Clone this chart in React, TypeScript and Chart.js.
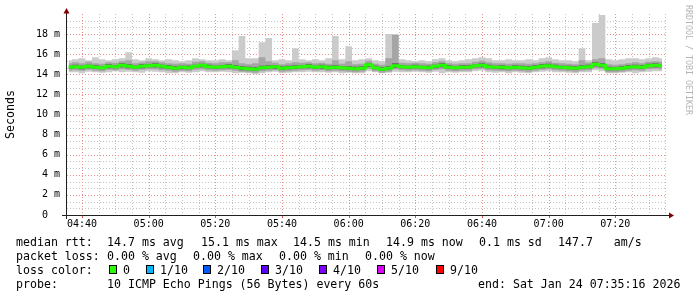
import React, { useEffect, useRef } from 'react';
import { Chart, registerables } from 'chart.js';
Chart.register(...registerables);

// sample grid: one value every 2 minutes starting 04:36 (minutes since midnight)
const START_MIN = 276;
const STEP_MIN = 2;

// median rtt (ms)
const MEDIAN = [
  14.7, 14.75, 14.7, 14.8, 14.7, 14.65, 14.8, 14.75, 14.9, 14.8,
  14.7, 14.8, 14.85, 14.9, 14.8, 14.7, 14.6, 14.7, 14.65, 14.8,
  14.9, 14.75, 14.7, 14.75, 14.8, 14.7, 14.6, 14.55, 14.5, 14.65,
  14.7, 14.75, 14.6, 14.65, 14.7, 14.75, 14.8, 14.7, 14.75, 14.65,
  14.7, 14.65, 14.6, 14.55, 14.6, 14.95, 14.65, 14.5, 14.6, 14.85,
  14.75, 14.7, 14.75, 14.7, 14.65, 14.8, 14.9, 14.7, 14.65, 14.7,
  14.7, 14.85, 14.9, 14.75, 14.7, 14.7, 14.65, 14.7, 14.65, 14.6,
  14.7, 14.8, 14.85, 14.75, 14.7, 14.65, 14.6, 14.7, 14.75, 15.0,
  14.9, 14.55, 14.55, 14.6, 14.7, 14.75, 14.7, 14.85, 14.9, 14.85,
];

// slowest ping (outer smoke top)
const SMOKE_MAX = [
  15.4, 15.5, 15.6, 15.4, 15.7, 15.5, 15.4, 15.5, 15.6, 16.2,
  15.5, 15.4, 15.6, 15.5, 15.4, 15.5, 15.4, 15.3, 15.4, 15.6,
  15.5, 15.4, 15.4, 15.5, 15.4, 16.4, 17.8, 15.6, 15.6, 17.2,
  17.6, 15.4, 15.5, 15.4, 16.6, 15.5, 15.4, 15.5, 15.4, 15.6,
  17.8, 15.5, 16.8, 15.4, 15.5, 15.6, 15.4, 15.3, 18.0, 18.0,
  15.5, 15.4, 15.3, 15.4, 15.3, 15.5, 15.6, 15.4, 15.3, 15.4,
  15.5, 15.6, 15.7, 15.6, 15.4, 15.4, 15.5, 15.4, 15.4, 15.5,
  15.4, 15.6, 15.7, 15.5, 15.4, 15.4, 15.3, 16.6, 15.4, 19.1,
  19.9, 15.5, 15.4, 15.5, 15.6, 15.6, 15.5, 15.6, 15.7, 15.6,
];

// fastest ping (outer smoke bottom)
const SMOKE_MIN = [
  14.2, 14.2, 14.1, 14.25, 14.2, 14.15, 14.2, 14.3, 14.2, 14.25,
  14.2, 14.15, 14.3, 14.25, 14.2, 14.1, 14.1, 14.2, 14.15, 14.2,
  14.3, 14.2, 14.2, 14.25, 14.2, 14.1, 14.15, 14.1, 14.0, 14.1,
  14.2, 14.25, 14.1, 14.15, 14.2, 14.2, 14.25, 14.2, 14.2, 14.15,
  14.2, 14.1, 14.15, 14.1, 14.1, 14.3, 14.2, 14.1, 14.15, 14.25,
  14.2, 14.2, 14.25, 14.2, 14.15, 14.25, 14.1, 14.2, 14.15, 14.2,
  14.2, 14.3, 14.35, 14.2, 14.15, 14.2, 14.1, 14.2, 14.15, 14.1,
  14.2, 14.25, 14.3, 14.2, 14.2, 14.15, 14.1, 14.2, 14.2, 14.4,
  14.3, 14.1, 14.1, 14.15, 14.2, 14.1, 14.2, 14.25, 14.3, 14.3,
];

// middle smoke band top / bottom
const SMOKE_HI2 = [
  15.1, 15.2, 15.1, 15.25, 15.1, 15.05, 15.2, 15.15, 15.3, 15.4,
  15.1, 15.2, 15.3, 15.3, 15.2, 15.1, 15.05, 15.1, 15.05, 15.25,
  15.3, 15.15, 15.1, 15.2, 15.2, 15.4, 15.1, 15.0, 15.1, 15.7,
  15.3, 15.15, 15.0, 15.1, 15.2, 15.15, 15.2, 15.1, 15.15, 15.05,
  15.4, 15.05, 15.3, 15.0, 15.05, 15.35, 15.05, 14.95, 15.6, 17.9,
  15.15, 15.1, 15.15, 15.1, 15.05, 15.2, 15.3, 15.1, 15.05, 15.1,
  15.1, 15.25, 15.35, 15.2, 15.1, 15.1, 15.05, 15.1, 15.1, 15.05,
  15.1, 15.2, 15.3, 15.15, 15.1, 15.05, 15.0, 15.4, 15.15, 15.5,
  15.6, 15.0, 14.95, 15.0, 15.1, 15.2, 15.1, 15.25, 15.3, 15.25,
];
const SMOKE_LO2 = [
  14.35, 14.4, 14.35, 14.45, 14.35, 14.3, 14.45, 14.4, 14.5, 14.45,
  14.35, 14.45, 14.5, 14.5, 14.4, 14.35, 14.25, 14.35, 14.3, 14.45,
  14.5, 14.4, 14.35, 14.4, 14.45, 14.35, 14.25, 14.2, 14.15, 14.3,
  14.35, 14.4, 14.25, 14.3, 14.35, 14.4, 14.45, 14.35, 14.4, 14.3,
  14.35, 14.3, 14.25, 14.2, 14.25, 14.55, 14.3, 14.15, 14.25, 14.5,
  14.4, 14.35, 14.4, 14.35, 14.3, 14.45, 14.5, 14.35, 14.3, 14.35,
  14.35, 14.5, 14.55, 14.4, 14.35, 14.35, 14.3, 14.35, 14.3, 14.25,
  14.35, 14.45, 14.5, 14.4, 14.35, 14.3, 14.25, 14.35, 14.4, 14.6,
  14.55, 14.2, 14.2, 14.25, 14.35, 14.4, 14.35, 14.5, 14.55, 14.5,
];

// inner (dark) smoke band top / bottom
const SMOKE_HI3 = [
  14.85, 14.95, 14.85, 14.95, 14.9, 14.8, 15.0, 14.9, 15.1, 15.0,
  14.85, 15.0, 15.0, 15.1, 14.95, 14.9, 14.8, 14.85, 14.85, 14.95,
  15.05, 14.95, 14.85, 14.9, 15.0, 14.9, 14.8, 14.75, 14.7, 14.85,
  14.9, 14.9, 14.8, 14.85, 14.9, 14.9, 15.0, 14.85, 14.95, 14.85,
  14.9, 14.8, 14.8, 14.75, 14.8, 15.1, 14.85, 14.7, 14.8, 15.1,
  14.9, 14.85, 14.95, 14.85, 14.85, 14.95, 15.1, 14.9, 14.8, 14.9,
  14.9, 15.0, 15.1, 14.95, 14.85, 14.9, 14.8, 14.9, 14.85, 14.8,
  14.9, 15.0, 15.05, 14.95, 14.85, 14.85, 14.8, 14.9, 14.95, 15.2,
  15.1, 14.75, 14.7, 14.8, 14.9, 14.95, 14.9, 15.05, 15.1, 15.0,
];
const SMOKE_LO3 = [
  14.55, 14.6, 14.5, 14.6, 14.55, 14.5, 14.6, 14.6, 14.7, 14.6,
  14.55, 14.6, 14.7, 14.7, 14.6, 14.55, 14.45, 14.5, 14.5, 14.65,
  14.7, 14.6, 14.55, 14.6, 14.6, 14.55, 14.4, 14.4, 14.35, 14.5,
  14.55, 14.55, 14.45, 14.5, 14.55, 14.6, 14.6, 14.55, 14.55, 14.5,
  14.55, 14.5, 14.45, 14.4, 14.45, 14.75, 14.5, 14.35, 14.45, 14.65,
  14.6, 14.55, 14.6, 14.55, 14.5, 14.6, 14.7, 14.55, 14.5, 14.55,
  14.55, 14.7, 14.7, 14.6, 14.55, 14.5, 14.5, 14.55, 14.5, 14.45,
  14.55, 14.6, 14.7, 14.6, 14.55, 14.5, 14.45, 14.55, 14.6, 14.8,
  14.7, 14.4, 14.4, 14.45, 14.55, 14.6, 14.55, 14.7, 14.7, 14.7,
];

const X_MIN = 275.5;
const X_MAX = 455.5;
const X_TICKS = [280, 300, 320, 340, 360, 380, 400, 420, 440];
const X_MINOR_STEP = 5;
const Y_TICKS = [0, 2, 4, 6, 8, 10, 12, 14, 16, 18];
const Y_MAX = 20;
const Y_MINOR_STEP = 2 / 3;

const LOSS_LABELS = ['0', '1/10', '2/10', '3/10', '4/10', '5/10', '9/10'];
const LOSS_COLORS = ['#26ff00', '#00b8ff', '#0059ff', '#5e00ff', '#7e00ff', '#dd00ff', '#ff0000'];

const RTT_LABELS = ['14.7 ms avg', '15.1 ms max', '14.5 ms min', '14.9 ms now', '0.1 ms sd', '147.7   am/s'];
const LOSS_STATS = ['0.00 % avg', '0.00 % max', '0.00 % min', '0.00 % now'];
const PROBE_TEXT = '10 ICMP Echo Pings (56 Bytes) every 60s';
const END_TEXT = 'end: Sat Jan 24 07:35:16 2026';

const MONO = "'DejaVu Sans Mono', 'Liberation Mono', monospace";

function pad2(n: number) {
  return n < 10 ? '0' + n : '' + n;
}
function fmtTime(m: number) {
  return pad2(Math.floor(m / 60)) + ':' + pad2(Math.round(m % 60));
}
function pts(arr: number[]) {
  return arr.map((v, i) => ({ x: START_MIN + i * STEP_MIN, y: v }));
}

const MGRID = 'rgb(234,140,140)';
const GRID = 'rgb(196,196,196)';

function dotH(ctx: CanvasRenderingContext2D, x0: number, x1: number, y: number) {
  for (let x = Math.round(x0); x < x1; x += 3) ctx.fillRect(x, y, 1, 1);
}
function dotV(ctx: CanvasRenderingContext2D, y0: number, y1: number, x: number) {
  for (let y = Math.round(y0); y < y1; y += 3) ctx.fillRect(x, y, 1, 1);
}

const rrdPlugin = {
  id: 'rrd',
  beforeDatasetsDraw(chart: any) {
    const { ctx, chartArea, scales } = chart;
    const { left, right, top, bottom } = chartArea;
    const xs = scales.x;
    const ys = scales.y;
    ctx.save();
    ctx.fillStyle = GRID;
    for (let k = 1; k * Y_MINOR_STEP <= Y_MAX + 0.001; k++) {
      if (k % 3 === 0) continue;
      const py = Math.round(ys.getPixelForValue(k * Y_MINOR_STEP));
      dotH(ctx, left, right, py);
    }
    for (let v = 280; v <= X_MAX; v += X_MINOR_STEP) {
      if (v % 20 === 0) continue;
      const px = Math.round(xs.getPixelForValue(v));
      dotV(ctx, top, bottom, px);
    }
    ctx.fillStyle = MGRID;
    for (const v of Y_TICKS) {
      if (v === 0) continue;
      const py = Math.round(ys.getPixelForValue(v));
      dotH(ctx, left, right, py);
    }
    for (const v of X_TICKS) {
      const px = Math.round(xs.getPixelForValue(v));
      dotV(ctx, top, bottom, px);
    }
    ctx.restore();
  },
  afterDraw(chart: any) {
    const { ctx, chartArea, scales } = chart;
    const { left, right, top, bottom } = chartArea;
    const xs = scales.x;
    const ax = Math.round(left) - 0.5;
    const ay = Math.round(bottom) + 0.5;
    ctx.save();
    ctx.setLineDash([]);
    ctx.fillStyle = 'rgb(222,79,79)';
    for (const v of X_TICKS) {
      const px = Math.round(xs.getPixelForValue(v));
      ctx.fillRect(px, ay + 0.5, 1, 2);
    }
    ctx.strokeStyle = '#202020';
    ctx.lineWidth = 1;
    ctx.beginPath();
    ctx.moveTo(left - 5, ay);
    ctx.lineTo(right + 3, ay);
    ctx.moveTo(ax, bottom + 4);
    ctx.lineTo(ax, top - 2);
    ctx.stroke();
    ctx.fillStyle = '#7f0000';
    ctx.beginPath();
    ctx.moveTo(ax, top - 6);
    ctx.lineTo(ax - 3, top - 0.5);
    ctx.lineTo(ax + 3, top - 0.5);
    ctx.closePath();
    ctx.fill();
    ctx.beginPath();
    ctx.moveTo(right + 7, ay);
    ctx.lineTo(right + 2, ay - 3);
    ctx.lineTo(right + 2, ay + 3);
    ctx.closePath();
    ctx.fill();

    ctx.fillStyle = '#000';
    ctx.font = '11.6px ' + MONO;
    ctx.save();
    ctx.translate(11, (top + bottom) / 2);
    ctx.rotate(-Math.PI / 2);
    ctx.textAlign = 'center';
    ctx.textBaseline = 'middle';
    ctx.fillText('Seconds', 0, 0);
    ctx.restore();

    ctx.save();
    ctx.fillStyle = '#b4b4b4';
    ctx.font = '8.3px ' + MONO;
    ctx.translate(688, 5);
    ctx.rotate(Math.PI / 2);
    ctx.textAlign = 'left';
    ctx.textBaseline = 'middle';
    ctx.fillText('RRDTOOL / TOBI OETIKER', 0, 0);
    ctx.restore();

    ctx.fillStyle = '#000';
    ctx.font = '11.6px ' + MONO;
    ctx.textAlign = 'left';
    ctx.textBaseline = 'alphabetic';
    const r1 = 246, r2 = 260, r3 = 274, r4 = 288;
    ctx.fillText('median rtt:', 16, r1);
    const rttX = [107, 201, 293, 386, 479, 558];
    RTT_LABELS.forEach((t, i) => ctx.fillText(t, rttX[i], r1));
    ctx.fillText('packet loss:', 16, r2);
    const lossX = [107, 193, 279, 365];
    LOSS_STATS.forEach((t, i) => ctx.fillText(t, lossX[i], r2));
    ctx.fillText('loss color:', 16, r3);
    const boxX = [109, 146, 203, 261, 319, 377, 436];
    LOSS_LABELS.forEach((t, i) => {
      ctx.fillStyle = LOSS_COLORS[i];
      ctx.fillRect(boxX[i], r3 - 8, 7, 8);
      ctx.strokeStyle = '#000';
      ctx.lineWidth = 1;
      ctx.strokeRect(boxX[i] + 0.5, r3 - 8.5, 7, 8);
      ctx.fillStyle = '#000';
      ctx.fillText(t, boxX[i] + 14, r3);
    });
    ctx.fillText('probe:', 16, r4);
    ctx.fillText(PROBE_TEXT, 107, r4);
    ctx.fillText(END_TEXT, 478, r4);
    ctx.restore();
  },
};

export default function App() {
  const ref = useRef<HTMLCanvasElement | null>(null);
  useEffect(() => {
    document.body.style.margin = '0';
    const canvas = ref.current;
    if (!canvas) return;
    const lineBase = {
      pointRadius: 0,
      pointHoverRadius: 0,
      tension: 0,
      stepped: 'middle' as const,
    };
    const edge = { borderColor: 'rgba(0,0,0,0)', borderWidth: 1 };
    const chart = new Chart(canvas, {
      type: 'line',
      data: {
        datasets: [
          { ...lineBase, ...edge, label: 'min', data: pts(SMOKE_MIN), fill: false, order: 8 },
          { ...lineBase, ...edge, label: 'max', data: pts(SMOKE_MAX), fill: '-1', backgroundColor: 'rgb(203,203,203)', order: 7 },
          { ...lineBase, ...edge, label: 'lo2', data: pts(SMOKE_LO2), fill: false, order: 6 },
          { ...lineBase, ...edge, label: 'hi2', data: pts(SMOKE_HI2), fill: '-1', backgroundColor: 'rgb(165,165,165)', order: 5 },
          { ...lineBase, ...edge, label: 'lo3', data: pts(SMOKE_LO3), fill: false, order: 4 },
          { ...lineBase, ...edge, label: 'hi3', data: pts(SMOKE_HI3), fill: '-1', backgroundColor: 'rgb(95,95,95)', order: 3 },
          { ...lineBase, label: 'median', data: pts(MEDIAN), borderColor: '#26ff00', borderWidth: 3, fill: false, order: 1 },
        ],
      },
      options: {
        animation: false,
        responsive: false,
        maintainAspectRatio: false,
        devicePixelRatio: 1,
        layout: { padding: { top: 14, right: 30, left: 0, bottom: 0 } },
        plugins: { legend: { display: false }, tooltip: { enabled: false }, title: { display: false } },
        events: [],
        scales: {
          x: {
            type: 'linear',
            min: X_MIN,
            max: X_MAX,
            grid: { display: false, drawTicks: false },
            border: { display: false },
            afterBuildTicks: (s: any) => {
              s.ticks = X_TICKS.map((v) => ({ value: v }));
            },
            afterFit: (s: any) => {
              s.height = 82;
            },
            ticks: {
              autoSkip: false,
              maxRotation: 0,
              padding: 3,
              color: '#000',
              font: { family: MONO, size: 10 },
              callback: (v: any) => fmtTime(Number(v)),
            },
          },
          y: {
            type: 'linear',
            min: 0,
            max: Y_MAX,
            grid: { display: false, drawTicks: false },
            border: { display: false },
            afterBuildTicks: (s: any) => {
              s.ticks = Y_TICKS.map((v) => ({ value: v }));
            },
            afterFit: (s: any) => {
              s.width = 67;
            },
            ticks: {
              autoSkip: false,
              padding: 7,
              color: '#000',
              font: { family: MONO, size: 10 },
              callback: (v: any) => (Number(v) === 0 ? '0  ' : `${v} m`),
            },
          },
        },
      },
      plugins: [rrdPlugin],
    });
    return () => chart.destroy();
  }, []);
  return (
    <div style={{ width: 697, height: 297 }}>
      <canvas ref={ref} width={697} height={297} style={{ display: 'block', width: 697, height: 297 }} />
    </div>
  );
}
